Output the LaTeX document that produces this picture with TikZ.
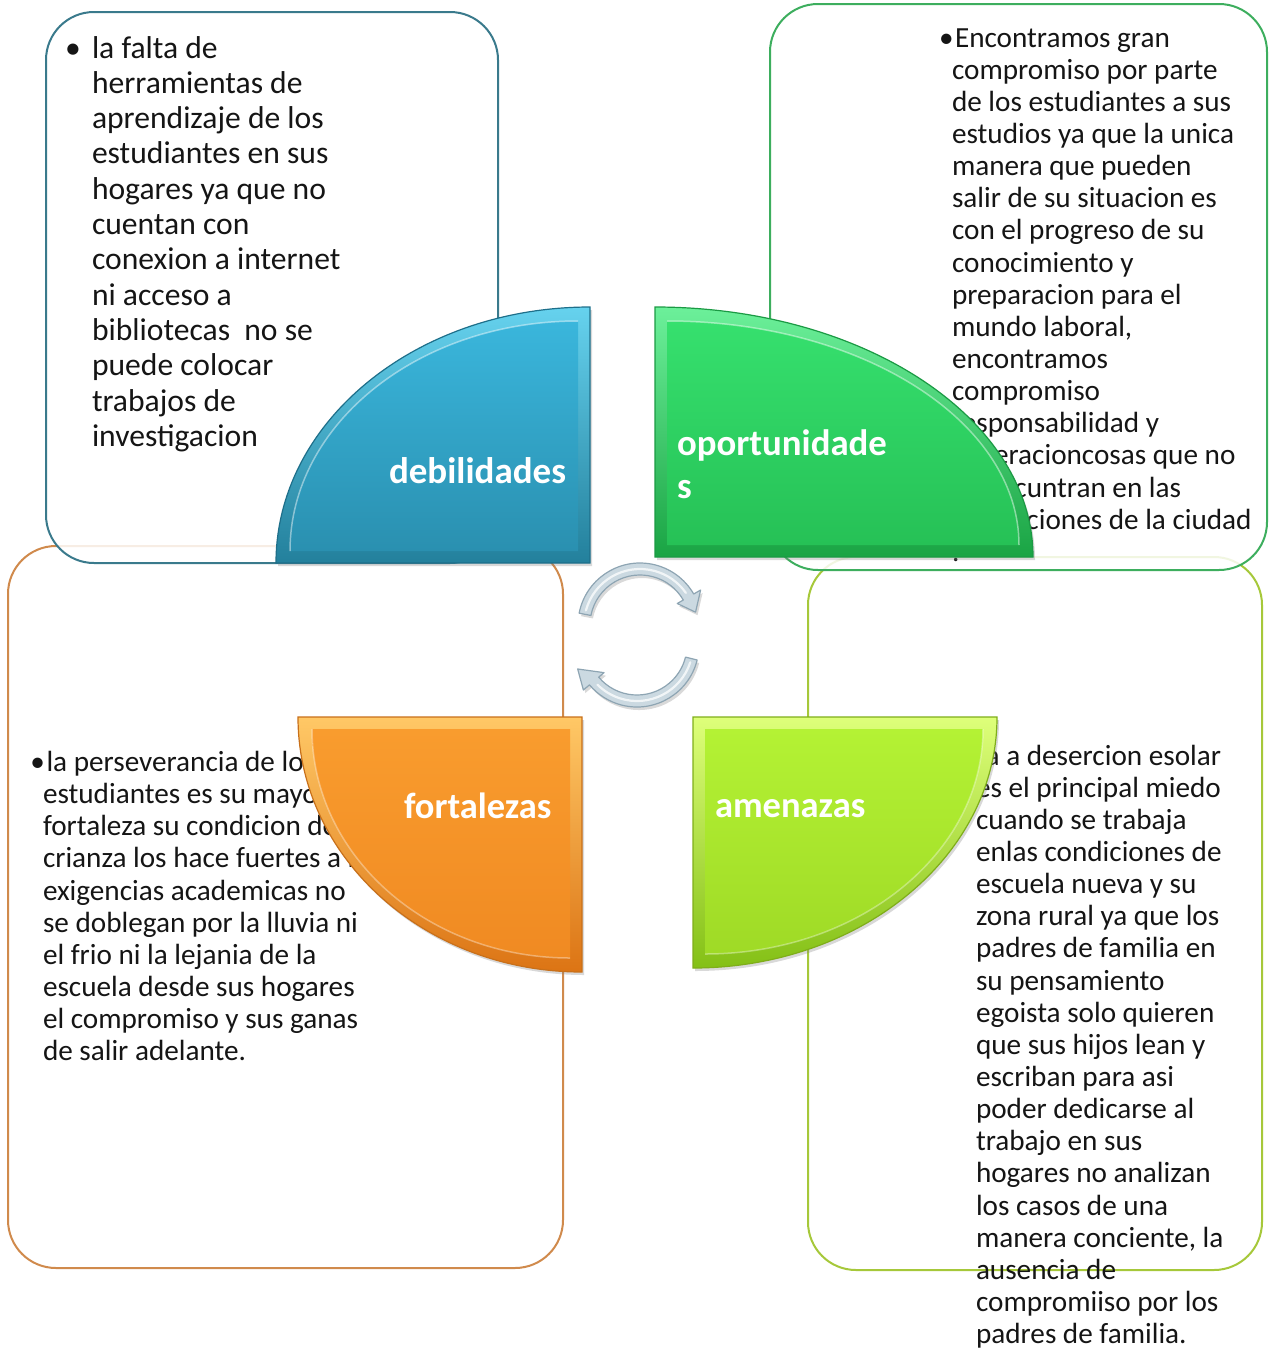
\documentclass[tikz,border=0pt]{standalone}
\usepackage{fontspec}
\setmainfont{Carlito}
\usetikzlibrary{shadows}
\definecolor{txt}{HTML}{151515}
\definecolor{edgeB}{HTML}{3A7A8C}
\definecolor{edgeC}{HTML}{3DAE5E}
\definecolor{edgeA}{HTML}{D08A4C}
\definecolor{edgeD}{HTML}{A6C83A}
\definecolor{bOut1}{HTML}{66D2EE}
\definecolor{bOut2}{HTML}{23809C}
\definecolor{bIn1}{HTML}{3AB6DC}
\definecolor{bIn2}{HTML}{2A90B0}
\definecolor{bEdge}{HTML}{1E6F8A}
\definecolor{gOut1}{HTML}{6CF09A}
\definecolor{gOut2}{HTML}{1AA444}
\definecolor{gIn1}{HTML}{36E06E}
\definecolor{gIn2}{HTML}{26C156}
\definecolor{gEdge}{HTML}{1B9A44}
\definecolor{oOut1}{HTML}{FFC866}
\definecolor{oOut2}{HTML}{DC7414}
\definecolor{oIn1}{HTML}{F99C2E}
\definecolor{oIn2}{HTML}{F08A22}
\definecolor{oEdge}{HTML}{C8701A}
\definecolor{lOut1}{HTML}{DEFF7A}
\definecolor{lOut2}{HTML}{84C016}
\definecolor{lIn1}{HTML}{B4F234}
\definecolor{lIn2}{HTML}{9FDA26}
\definecolor{lEdge}{HTML}{7FAE1A}
\definecolor{arrFill}{HTML}{CBD9E1}
\definecolor{arrEdge}{HTML}{8EA5B3}
\begin{document}
\begin{tikzpicture}[x=1pt,y=-1pt,
  boxstyle/.style={rounded corners=48pt, line width=2pt, fill=white},
  bigtext/.style={anchor=north west, inner sep=0pt, outer sep=0pt, align=left, text=txt,
    font=\fontsize{31.6}{35.3}\selectfont},
  smalltext/.style={anchor=north west, inner sep=0pt, outer sep=0pt, align=left, text=txt,
    font=\fontsize{29.2}{32.15}\selectfont},
  bulletmark/.style={anchor=base west, inner sep=0pt, outer sep=0pt, text=txt},
  labeltext/.style={anchor=north west, inner sep=0pt, outer sep=0pt, align=left, text=white},
  shadowed/.style={drop shadow={opacity=0.3, shadow xshift=2pt, shadow yshift=-3pt}},
  arrowshape/.style={fill=arrFill, draw=arrEdge, line width=1.2pt, line join=round},
  arrowshine/.style={draw=white, line width=2.2pt, opacity=0.75, line cap=round}
]
\useasboundingbox (0,0) rectangle (1269,1350);

% ---- boxes ----
\draw[boxstyle, draw=edgeA] (8,546) rectangle (563,1268);
\draw[boxstyle, draw=edgeD] (808,557) rectangle (1262,1270);
\draw[boxstyle, draw=edgeB, fill opacity=0.85] (46,12) rectangle (498,563);
\draw[boxstyle, draw=edgeC, fill opacity=0.85] (770,4) rectangle (1267,570);

% ---- texts ----
\node[bigtext] (tltext) at (92,32.72) {\rule{0pt}{0.8em}la falta de\\herramientas de\\aprendizaje de los\\estudiantes en sus\\hogares ya que no\\cuentan con\\conexion a internet\\ni acceso a\\bibliotecas\ \ no se\\puede colocar\\trabajos de\\investigacion};
\node[bulletmark, font=\fontsize{31.6}{35.3}\selectfont] (tlbullet) at (65,58) {•};

\node[smalltext] (trtext) at (952,23.64) {\rule{0pt}{0.8em}\hspace*{3pt}Encontramos gran\\compromiso por parte\\de los estudiantes a sus\\estudios ya que la unica\\manera que pueden\\salir de su situacion es\\con el progreso de su\\conocimiento y\\preparacion para el\\mundo laboral,\\encontramos\\compromiso\\responsabilidad y\\superacioncosas que no\\se encuntran en las\\instituciones de la ciudad\\.};
\node[bulletmark, font=\fontsize{29.2}{32.15}\selectfont] (trbullet) at (939,47) {•};

\node[smalltext] (bltext) at (43,748.14) {\rule{0pt}{0.8em}\hspace*{3.5pt}la perseverancia de los\\estudiantes es su mayor\\fortaleza su condicion de\\crianza los hace fuertes a las\\exigencias academicas no\\se doblegan por la lluvia ni\\el frio ni la lejania de la\\escuela desde sus hogares\\el compromiso y sus ganas\\de salir adelante.};
\node[bulletmark, font=\fontsize{29.2}{32.15}\selectfont] (blbullet) at (30.5,771.5) {•};

\node[smalltext] (brtext) at (976,741.64) {\rule{0pt}{0.8em}\hspace*{3pt}la a desercion esolar\\es el principal miedo\\cuando se trabaja\\enlas condiciones de\\escuela nueva y su\\zona rural ya que los\\padres de familia en\\su pensamiento\\egoista solo quieren\\que sus hijos lean y\\escriban para asi\\poder dedicarse al\\trabajo en sus\\hogares no analizan\\los casos de una\\manera conciente, la\\ausencia de\\compromiiso por los\\padres de familia.};
\node[bulletmark, font=\fontsize{29.2}{32.15}\selectfont] (brbullet) at (964,765) {•};

% ---- quarter shapes ----
% debilidades (blue)
\path[shadowed, top color=bOut1, bottom color=bOut2, draw=bEdge, line width=1.2pt]
  (590,563) -- (276,563) arc[start angle=180, end angle=270, x radius=314, y radius=256] -- cycle;
\path[top color=bIn1, bottom color=bIn2]
  (578,551) -- (290,551) arc[start angle=180, end angle=270, x radius=288, y radius=230] -- cycle;
\draw[white, opacity=0.45, line width=1.5pt]
  (290,551) arc[start angle=180, end angle=270, x radius=288, y radius=230];
% oportunidades (green)
\path[shadowed, top color=gOut1, bottom color=gOut2, draw=gEdge, line width=1.2pt]
  (655,557) -- (655,307) arc[start angle=270, end angle=360, x radius=378, y radius=250] -- cycle;
\path[top color=gIn1, bottom color=gIn2]
  (667,545) -- (667,321) arc[start angle=270, end angle=360, x radius=352, y radius=224] -- cycle;
\draw[white, opacity=0.45, line width=1.5pt]
  (667,321) arc[start angle=270, end angle=360, x radius=352, y radius=224];
% fortalezas (orange)
\path[shadowed, top color=oOut1, bottom color=oOut2, draw=oEdge, line width=1.2pt]
  (582,717) -- (298,717) arc[start angle=180, end angle=90, x radius=284, y radius=255] -- cycle;
\path[top color=oIn1, bottom color=oIn2]
  (570,729) -- (312,729) arc[start angle=180, end angle=90, x radius=258, y radius=229] -- cycle;
\draw[white, opacity=0.35, line width=1.5pt]
  (312,729) arc[start angle=180, end angle=90, x radius=258, y radius=229];
% amenazas (lime)
\path[shadowed, top color=lOut1, bottom color=lOut2, draw=lEdge, line width=1.2pt]
  (693,717) -- (997,717) arc[start angle=0, end angle=90, x radius=304, y radius=251] -- cycle;
\path[top color=lIn1, bottom color=lIn2]
  (705,729) -- (983,729) arc[start angle=0, end angle=90, x radius=278, y radius=225] -- cycle;
\draw[white, opacity=0.35, line width=1.5pt]
  (983,729) arc[start angle=0, end angle=90, x radius=278, y radius=225];

% ---- labels ----
\node[labeltext, font=\fontsize{37}{43}\selectfont\bfseries] (deb) at (389,453.4) {\rule{0pt}{0.8em}debilidades};
\node[labeltext, font=\fontsize{36.8}{43}\selectfont\bfseries] (opo) at (677,425.56) {\rule{0pt}{0.8em}oportunidade\\s};
\node[labeltext, font=\fontsize{36.5}{43}\selectfont\bfseries] (fort) at (404,788.8) {\rule{0pt}{0.8em}fortalezas};
\node[labeltext, font=\fontsize{36.5}{43}\selectfont\bfseries] (amen) at (715,787.8) {\rule{0pt}{0.8em}amenazas};

% ---- circular arrows ----
\coordinate (c1) at (640,625);
\coordinate (c2) at (637,645);
\path[arrowshape, shadowed]
  ([shift={(c1)}]191:62) arc[start angle=191, end angle=330, radius=62]
  -- ([shift={(c1)}]330:70) -- ([shift={(c1)}]347:57) -- ([shift={(c1)}]330:43)
  -- ([shift={(c1)}]330:50) arc[start angle=330, end angle=191, radius=50] -- cycle;
\draw[arrowshine] ([shift={(c1)}]195:56) arc[start angle=195, end angle=325, radius=56];
\path[arrowshape, shadowed]
  ([shift={(c2)}]14:62) arc[start angle=14, end angle=140, radius=62]
  -- ([shift={(c2)}]140:70) -- ([shift={(c2)}]158:64) -- ([shift={(c2)}]140:43)
  -- ([shift={(c2)}]140:50) arc[start angle=140, end angle=14, radius=50] -- cycle;
\draw[arrowshine] ([shift={(c2)}]18:56) arc[start angle=18, end angle=135, radius=56];
\end{tikzpicture}
\end{document}
